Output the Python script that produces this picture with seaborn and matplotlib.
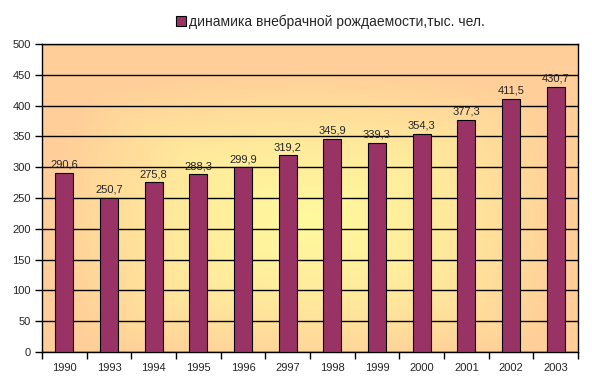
import numpy as np
import pandas as pd
import matplotlib
matplotlib.use('Agg')
import matplotlib.pyplot as plt
import seaborn as sns
from matplotlib.colors import LinearSegmentedColormap

years = ['1990', '1993', '1994', '1995', '1996', '2997', '1998', '1999', '2000', '2001', '2002', '2003']
values = [290.6, 250.7, 275.8, 288.3, 299.9, 319.2, 345.9, 339.3, 354.3, 377.3, 411.5, 430.7]
series_name = 'динамика внебрачной рождаемости,тыс. чел.'
yticks = [0, 50, 100, 150, 200, 250, 300, 350, 400, 450, 500]

sns.set_style('white')
plt.rcParams['font.family'] = ['Liberation Sans', 'DejaVu Sans']

df = pd.DataFrame({'year': years, 'value': values})

fig = plt.figure(figsize=(5.92, 3.82), dpi=100)
ax = fig.add_axes([42 / 592, 30 / 382, 536 / 592, 308 / 382])

# background gradient: pale yellow in the middle, peach at the edges
gx, gy = np.meshgrid(np.linspace(-1, 1, 300), np.linspace(-1, 1, 200))
dist = np.clip(np.maximum(np.abs(gx), np.abs(gy + 0.15)) * 0.55 + np.sqrt(gx**2 + (gy + 0.15)**2) * 0.45, 0, 1)
cmap = LinearSegmentedColormap.from_list('bg', ['#FFFA9E', '#FFEA9C', '#FFCE99'])
ax.imshow(dist, cmap=cmap, extent=[0, 1, 0, 1], transform=ax.transAxes,
          aspect='auto', zorder=0, origin='lower', vmin=0, vmax=1)

sns.barplot(data=df, x='year', y='value', order=years, color='#993366',
            edgecolor='black', linewidth=0.8, width=0.4, saturation=1,
            ax=ax, zorder=3)

ax.set_xlim(-0.5, len(years) - 0.5)
ax.set_ylim(0, 500)
ax.set_yticks(yticks)
ax.yaxis.grid(True, color='black', linewidth=1, zorder=1)
ax.set_axisbelow(True)
for s in ax.spines.values():
    s.set_color('black')
    s.set_linewidth(1)

ax.set_xlabel('')
ax.set_ylabel('')
ax.set_xticks(range(len(years)))
ax.set_xticklabels(years)
ax.set_xticks(np.arange(-0.5, len(years)), minor=True)
ax.tick_params(axis='x', which='major', length=0, pad=8, labelsize=8)
ax.tick_params(axis='x', which='minor', length=5, width=1, color='black', direction='out', bottom=True)
ax.tick_params(axis='y', length=5, width=1, color='black', direction='out', left=True, labelsize=8, pad=3)

for i, v in enumerate(values):
    ax.text(i, v + 5, f'{v:.1f}'.replace('.', ','), ha='center', va='bottom',
            fontsize=8, zorder=4)

handle = plt.Rectangle((0, 0), 1, 1, facecolor='#993366', edgecolor='black', linewidth=0.8)
fig.legend([handle], [series_name], loc='center left', bbox_to_anchor=(170 / 592, 1 - 22 / 382),
           frameon=False, fontsize=10, handlelength=0.75, handleheight=0.75,
           handletextpad=0.25, borderaxespad=0)

fig.savefig('out.png', dpi=100, facecolor='white')
